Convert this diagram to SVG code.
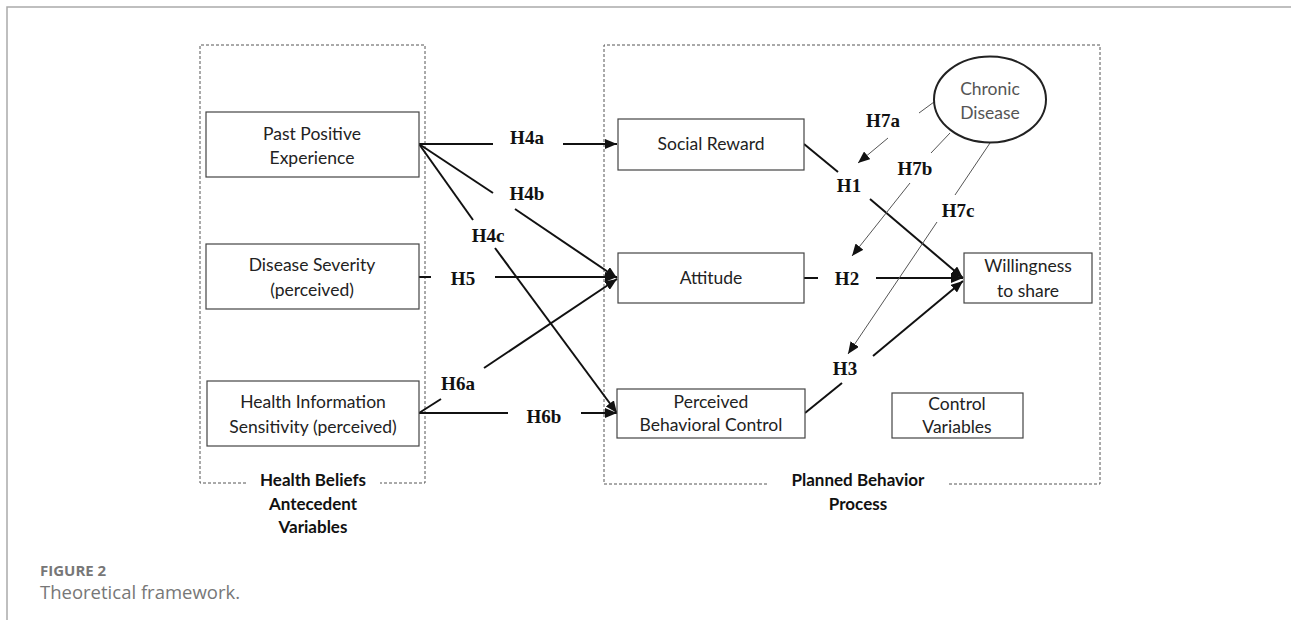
<svg xmlns="http://www.w3.org/2000/svg" width="1291" height="624" viewBox="0 0 1291 624">
<style>
.frame{fill:none;stroke:#aaa;stroke-width:1.5}
.group{fill:none;stroke:#555;stroke-width:1;stroke-dasharray:3 2}
.box{fill:#fff;stroke:#444;stroke-width:1.2}
.nt{font-family:Lato,"Open Sans",sans-serif;font-size:17.5px;fill:#222;text-anchor:middle}
.gt{font-family:Lato,"Open Sans",sans-serif;font-size:17px;font-weight:bold;fill:#111;text-anchor:middle}
.hl{font-family:"Liberation Serif",serif;font-size:19px;font-weight:bold;fill:#111;text-anchor:middle}
.c{fill:none;stroke:#111;stroke-width:2}
.g{fill:none;stroke:#555;stroke-width:1}
.cap1{font-family:"Open Sans",sans-serif;font-size:15px;font-weight:bold;fill:#777}
.cap2{font-family:"Open Sans",sans-serif;font-size:18.5px;fill:#777}
</style>
<defs>
<marker id="ah" markerWidth="12" markerHeight="10" refX="12" refY="5" orient="auto" markerUnits="userSpaceOnUse">
<path d="M0,0 L12,5 L0,10 Z" fill="#111"/>
</marker>
</defs>
<rect width="1291" height="624" fill="#fff"/>
<path class="frame" d="M7,620 V7 H1291"/>
<g id="groups">
<path class="group" d="M246,483 H200 V45 H425 V483 H380"/>
<path class="group" d="M767,484 H604 V45 H1100 V484 H947"/>
<text class="gt" x="313" y="486">Health Beliefs</text>
<text class="gt" x="313" y="510">Antecedent</text>
<text class="gt" x="313" y="533">Variables</text>
<text class="gt" x="858" y="486">Planned Behavior</text>
<text class="gt" x="858" y="510">Process</text>
</g>
<g id="connectors">
<path class="c" d="M419,144 H493"/>
<path class="c" d="M563,144 H617" marker-end="url(#ah)"/>
<path class="c" d="M419,144 L493,193"/>
<path class="c" d="M515,209 L617,278" marker-end="url(#ah)"/>
<path class="c" d="M419,144 L473,220"/>
<path class="c" d="M495,248 L617,413" marker-end="url(#ah)"/>
<path class="c" d="M419,277 H431"/>
<path class="c" d="M495,277 H617" marker-end="url(#ah)"/>
<path class="c" d="M419,413 L441,399"/>
<path class="c" d="M484,368 L617,279" marker-end="url(#ah)"/>
<path class="c" d="M419,413 H508"/>
<path class="c" d="M581,413 H617" marker-end="url(#ah)"/>
<path class="c" d="M804,144 L838,172"/>
<path class="c" d="M870,199 L963,278" marker-end="url(#ah)"/>
<path class="c" d="M804,278 H818"/>
<path class="c" d="M876,278 H963" marker-end="url(#ah)"/>
<path class="c" d="M805,413 L842,383"/>
<path class="c" d="M873,356 L963,281" marker-end="url(#ah)"/>
<path class="g" d="M934,102 L919,113"/>
<path class="g" d="M888,138 L858,163" marker-end="url(#ah)"/>
<path class="g" d="M950,133 L931,153"/>
<path class="g" d="M910,183 L852,256" marker-end="url(#ah)"/>
<path class="g" d="M990,143 L955,195"/>
<path class="g" d="M937,222 L848,354" marker-end="url(#ah)"/>
<text class="hl" x="527" y="144">H4a</text>
<text class="hl" x="527" y="200">H4b</text>
<text class="hl" x="488" y="242">H4c</text>
<text class="hl" x="463" y="285">H5</text>
<text class="hl" x="458" y="390">H6a</text>
<text class="hl" x="544" y="423">H6b</text>
<text class="hl" x="883" y="127">H7a</text>
<text class="hl" x="915" y="175">H7b</text>
<text class="hl" x="958" y="217">H7c</text>
<text class="hl" x="849" y="192">H1</text>
<text class="hl" x="847" y="285">H2</text>
<text class="hl" x="845" y="375">H3</text>
</g>
<g id="past-positive-experience">
<rect class="box" x="206" y="112" width="213" height="65"/>
<text class="nt" x="312" y="140">Past Positive</text>
<text class="nt" x="312" y="164">Experience</text>
</g>
<g id="disease-severity">
<rect class="box" x="206" y="244" width="213" height="65"/>
<text class="nt" x="312" y="271">Disease Severity</text>
<text class="nt" x="312" y="296">(perceived)</text>
</g>
<g id="health-information-sensitivity">
<rect class="box" x="207" y="381" width="212" height="65"/>
<text class="nt" x="313" y="408">Health Information</text>
<text class="nt" x="313" y="433">Sensitivity (perceived)</text>
</g>
<g id="social-reward">
<rect class="box" x="618" y="119" width="186" height="51"/>
<text class="nt" x="711" y="150">Social Reward</text>
</g>
<g id="attitude">
<rect class="box" x="618" y="253" width="186" height="50"/>
<text class="nt" x="711" y="284">Attitude</text>
</g>
<g id="perceived-behavioral-control">
<rect class="box" x="617" y="389" width="188" height="49"/>
<text class="nt" x="711" y="408">Perceived</text>
<text class="nt" x="711" y="431">Behavioral Control</text>
</g>
<g id="control-variables">
<rect class="box" x="892" y="393" width="131" height="45"/>
<text class="nt" x="957" y="410">Control</text>
<text class="nt" x="957" y="433">Variables</text>
</g>
<g id="willingness-to-share">
<rect class="box" x="964" y="253" width="128" height="50"/>
<text class="nt" x="1028" y="272">Willingness</text>
<text class="nt" x="1028" y="297">to share</text>
</g>
<g id="chronic-disease">
<ellipse cx="990" cy="99.5" rx="56" ry="43" fill="#fff" stroke="#222" stroke-width="2"/>
<text class="nt" x="990" y="95" style="fill:#555">Chronic</text>
<text class="nt" x="990" y="119" style="fill:#555">Disease</text>
</g>
<g id="caption">
<text class="cap1" x="40" y="576">FIGURE 2</text>
<text class="cap2" x="40" y="599">Theoretical framework.</text>
</g>
</svg>
